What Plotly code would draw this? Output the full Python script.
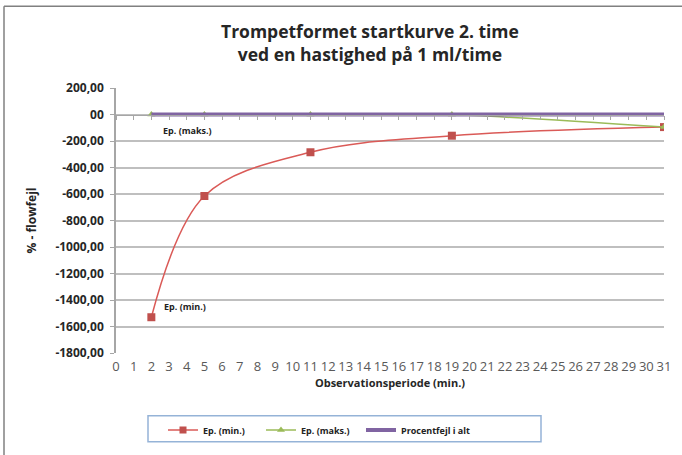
import plotly.graph_objects as go

title_lines = ["Trompetformet startkurve 2. time", "ved en hastighed på 1 ml/time"]
x_obs = [2, 5, 11, 19, 31]
ep_min = [-1530, -615, -285, -160, -95]
ep_maks = [0, 0, 0, 0, -95]
procent_alt = [0, 0, 0, 0, 0]
x_ticks = list(range(0, 32))
y_ticks = [200, 0, -200, -400, -600, -800, -1000, -1200, -1400, -1600, -1800]
y_ticktext = ["200,00", "00", "-200,00", "-400,00", "-600,00", "-800,00", "-1000,00",
              "-1200,00", "-1400,00", "-1600,00", "-1800,00"]
series_names = ["Ep. (min.)", "Ep. (maks.)", "Procentfejl i alt"]

W, H = 682, 455
L, R, T, B = 116, 18, 88, 101
PW, PH = W - L - R, H - T - B

def px(xp):
    return (xp - L) / PW

def py(yp):
    return (H - B - yp) / PH

RED = "#C0504D"
RED_LINE = "#DA5A57"
GREEN = "#9BBB59"
PURPLE = "#8064A2"
FONT = "Open Sans"

fig = go.Figure()
fig.add_trace(go.Scatter(
    x=x_obs, y=ep_min, name=series_names[0], mode="lines+markers",
    line=dict(color=RED_LINE, width=1.5, shape="spline", smoothing=1.0),
    marker=dict(symbol="square", size=8, color=RED), showlegend=False))
fig.add_trace(go.Scatter(
    x=x_obs, y=ep_maks, name=series_names[1], mode="lines+markers",
    line=dict(color=GREEN, width=1.5, shape="spline", smoothing=0.6),
    marker=dict(symbol="triangle-up", size=7, color=GREEN), showlegend=False))
fig.add_trace(go.Scatter(
    x=x_obs, y=procent_alt, name=series_names[2], mode="lines",
    line=dict(color=PURPLE, width=4), showlegend=False))

# legend-only traces, each in its own legend for exact placement
fig.add_trace(go.Scatter(x=[None], y=[None], name="<b>" + series_names[0] + "</b>",
                         mode="lines+markers", legend="legend",
                         line=dict(color=RED_LINE, width=1.5),
                         marker=dict(symbol="square", size=7, color=RED)))
fig.add_trace(go.Scatter(x=[None], y=[None], name="<b>" + series_names[1] + "</b>",
                         mode="lines+markers", legend="legend2",
                         line=dict(color=GREEN, width=1.5),
                         marker=dict(symbol="triangle-up", size=7, color=GREEN)))
fig.add_trace(go.Scatter(x=[None], y=[None], name="<b>" + series_names[2] + "</b>",
                         mode="lines", legend="legend3",
                         line=dict(color=PURPLE, width=4)))

# zero-crossing x-axis line with ticks
fig.add_trace(go.Scatter(x=[None], y=[None], xaxis="x2", showlegend=False))

fig.add_annotation(x=4.05, y=-120, text="<b>Ep. (maks.)</b>", showarrow=False,
                   font=dict(size=9, color="#222", family=FONT), bgcolor="white")
fig.add_annotation(x=3.9, y=-1450, text="<b>Ep. (min.)</b>", showarrow=False,
                   font=dict(size=9, color="#222", family=FONT))

fig.add_annotation(xref="paper", yref="paper", x=px(370), y=py(42),
                   xanchor="center", yanchor="middle",
                   text="<b>" + "<br>".join(title_lines) + "</b>", showarrow=False,
                   font=dict(size=17.5, color="#262626", family=FONT), align="center")

leg_common = dict(orientation="h", xanchor="left", yanchor="middle", itemwidth=30,
                  font=dict(size=9, color="#222", family=FONT),
                  bgcolor="rgba(0,0,0,0)")

fig.update_layout(
    width=W, height=H,
    margin=dict(l=L, r=R, t=T, b=B),
    paper_bgcolor="white", plot_bgcolor="white",
    font=dict(family=FONT),
    xaxis=dict(range=[0, 31], tickvals=x_ticks, showgrid=False, zeroline=False,
               showline=False, ticks="", ticklabelstandoff=4,
               tickfont=dict(size=13, color="#595959", family=FONT),
               title=dict(text="<b>Observationsperiode (min.)</b>", standoff=0,
                          font=dict(size=11, color="#262626", family=FONT))),
    xaxis2=dict(range=[0, 31], overlaying="x", anchor="free", position=0.9,
                tickvals=x_ticks, showticklabels=False, showgrid=False, zeroline=False,
                showline=True, linecolor="#A6A6A6", linewidth=1,
                ticks="outside", ticklen=4, tickcolor="#A6A6A6"),
    yaxis=dict(range=[-1800, 200], tickvals=y_ticks,
               ticktext=["<b>" + t + "</b>" for t in y_ticktext],
               showgrid=True, gridcolor="#BFBFBF", gridwidth=1.5, zeroline=False,
               showline=True, linecolor="#A6A6A6", linewidth=1.5,
               ticks="outside", ticklen=4, tickcolor="#A6A6A6", ticklabelstandoff=4,
               tickfont=dict(size=12, color="#262626", family=FONT),
               title=dict(text="<b>% - flowfejl</b>", standoff=16,
                          font=dict(size=12, color="#262626", family=FONT))),
    legend=dict(x=px(163), y=py(430), **leg_common),
    legend2=dict(x=px(261), y=py(430), **leg_common),
    legend3=dict(x=px(361), y=py(430), **leg_common),
    shapes=[
        dict(type="rect", xref="paper", yref="paper", x0=px(148), x1=px(541),
             y0=py(443), y1=py(417), line=dict(color="#95B3D7", width=1.5),
             fillcolor="rgba(0,0,0,0)", layer="below"),
        dict(type="line", xref="paper", yref="paper", x0=px(4), x1=px(700),
             y0=py(6), y1=py(6), line=dict(color="#808080", width=1.5)),
        dict(type="line", xref="paper", yref="paper", x0=px(4), x1=px(4),
             y0=py(6), y1=py(470), line=dict(color="#808080", width=1.5)),
    ],
)

fig.write_html("out.html", config={"displayModeBar": False},
               post_script="document.body.style.margin='0';document.body.style.overflow='hidden';")
